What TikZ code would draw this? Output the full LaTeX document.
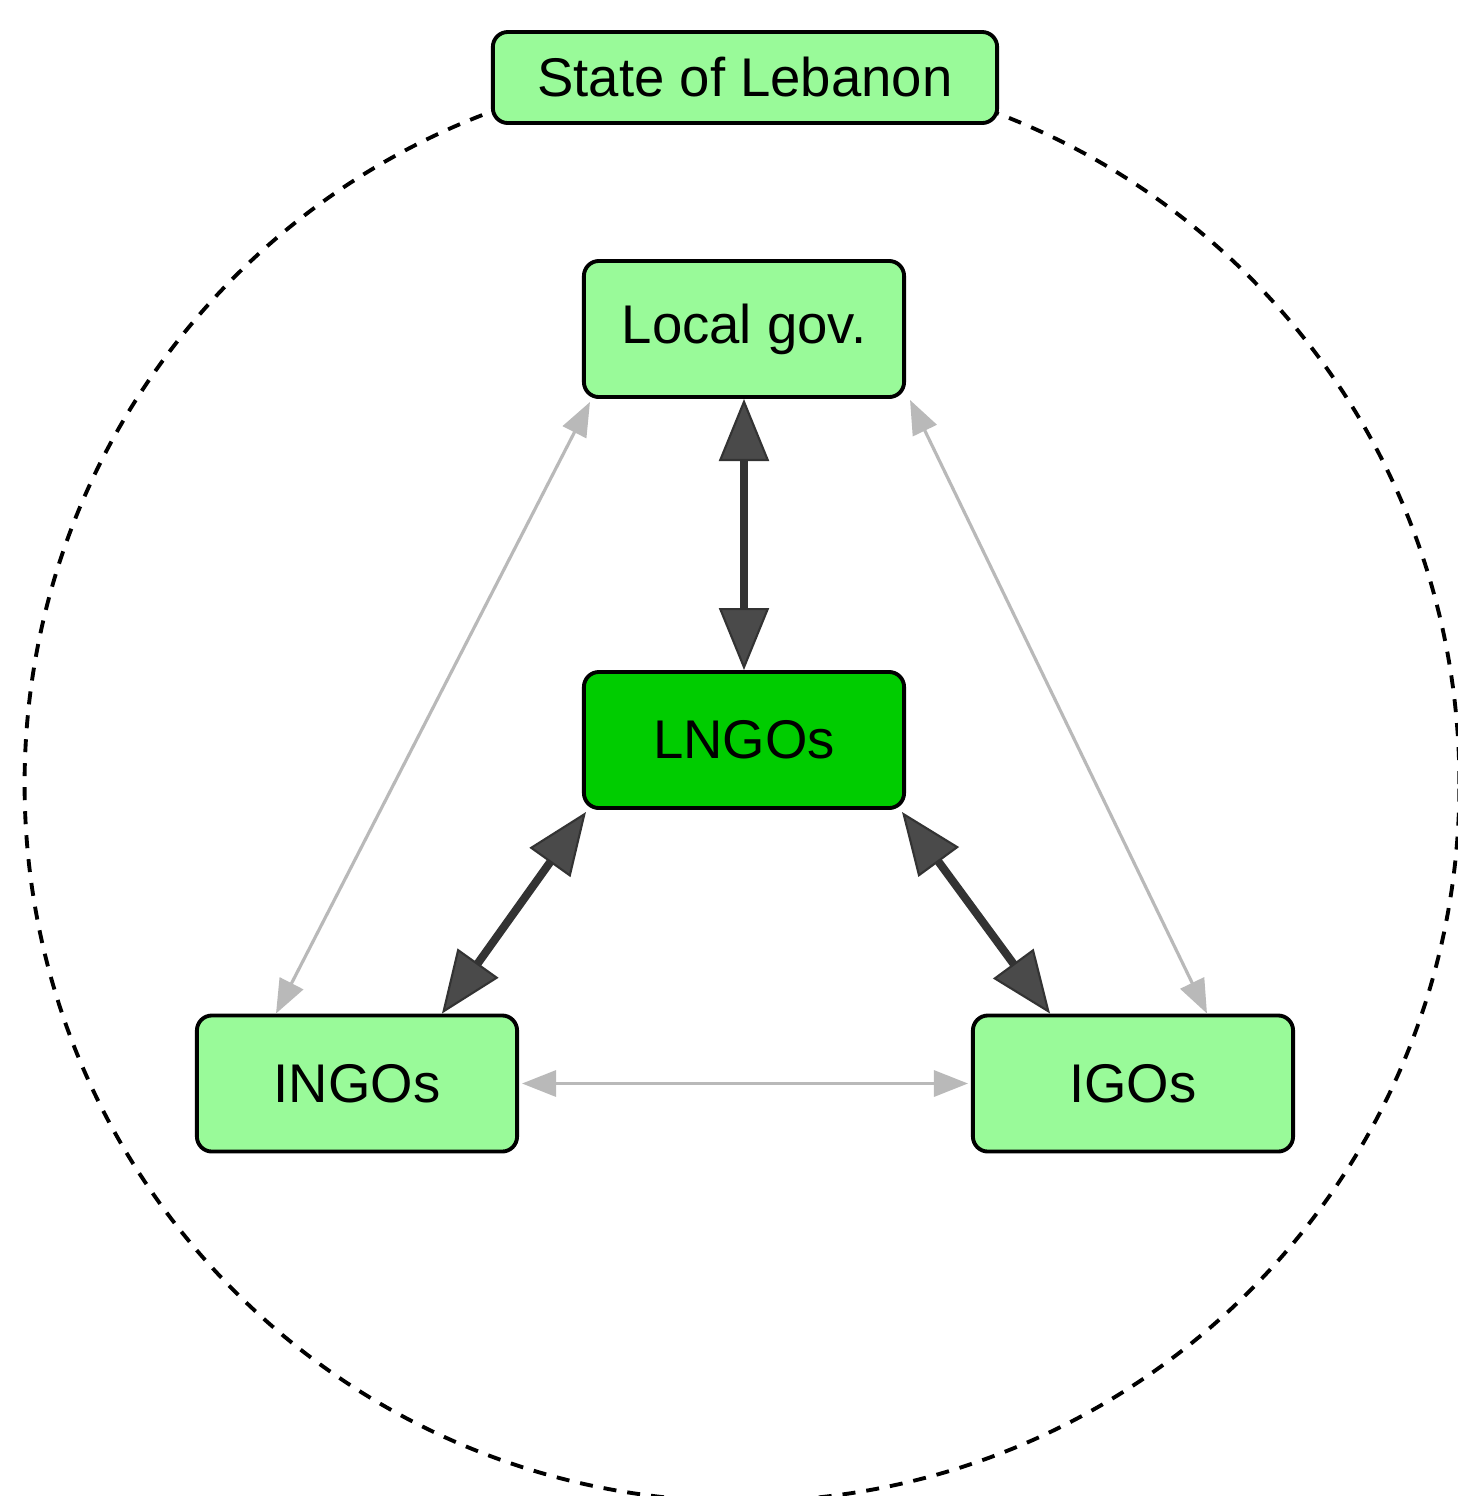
\documentclass[tikz,border=0pt]{standalone}
\usepackage{fontspec}
\setmainfont{Liberation Sans}
\usetikzlibrary{arrows.meta}
\definecolor{lightg}{HTML}{99FA99}
\definecolor{darkg}{HTML}{00CC00}
\definecolor{darkarrow}{HTML}{333333}
\definecolor{headfill}{HTML}{4A4A4A}
\definecolor{grayarrow}{HTML}{B9B9B9}
\tikzset{
  box/.style={draw=black, line width=1.1pt, rounded corners=0.15cm, fill=lightg,
    minimum width=3.2cm, minimum height=1.36cm, inner sep=0pt,
    font=\fontsize{15.5}{18}\selectfont},
  strong/.style={draw=darkarrow, line width=2.3pt,
    {Triangle[length=0.62cm,width=0.5cm,fill=headfill,line width=0.6pt]}-{Triangle[length=0.62cm,width=0.5cm,fill=headfill,line width=0.6pt]}},
  weak/.style={draw=grayarrow, line width=0.9pt,
    {Triangle[length=0.34cm,width=0.26cm]}-{Triangle[length=0.34cm,width=0.26cm]}},
  ring/.style={draw=black, line width=1.1pt, dash pattern=on 0.13cm off 0.11cm}
}
\begin{document}
\begin{tikzpicture}[x=0.01cm,y=-0.01cm]
\useasboundingbox (0,0) rectangle (1458,1496);
\clip (0,0) rectangle (1458,1496);
\fill[white] (0,0) rectangle (1458,1496);
\coordinate (c) at (742,784);
\draw[ring] (c) circle[radius=7.17cm];
\node[box, minimum width=5.04cm, minimum height=0.91cm] (state) at (745,77.5) {State of Lebanon};
\node[box] (loc) at (744,329) {Local gov.};
\node[box, fill=darkg] (lngo) at (744,740) {LNGOs};
\node[box] (ingo) at (357,1083.5) {INGOs};
\node[box] (igo) at (1133,1083.5) {IGOs};
\draw[strong] (loc.south) -- (lngo.north);
\draw[strong] ([shift={(0.04cm,-0.02cm)}]lngo.south west) -- ([xshift=-0.77cm]ingo.north east);
\draw[strong] ([shift={(-0.04cm,-0.02cm)}]lngo.south east) -- ([xshift=0.79cm]igo.north west);
\draw[weak] ([xshift=0.08cm,yshift=-0.03cm]loc.south west) -- ([xshift=0.81cm]ingo.north west);
\draw[weak] ([xshift=0.04cm,yshift=-0.01cm]loc.south east) -- ([xshift=-0.88cm]igo.north east);
\draw[weak] ([xshift=0.03cm]ingo.east) -- ([xshift=-0.03cm]igo.west);
\end{tikzpicture}
\end{document}
